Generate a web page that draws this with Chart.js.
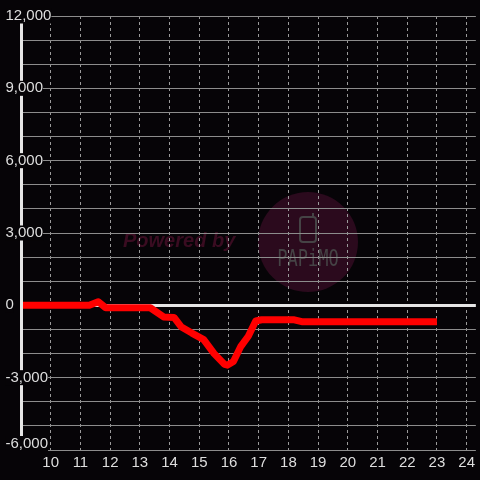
<!DOCTYPE html>
<html>
<head>
<meta charset="utf-8">
<script src="https://cdn.jsdelivr.net/npm/chart.js@4/dist/chart.umd.min.js"></script>
<style>
  html, body { margin: 0; padding: 0; background: #060407; }
  #wrap { width: 480px; height: 480px; }
</style>
</head>
<body>
<div id="wrap"><canvas id="diffChart"></canvas></div>
<script>
// hour of day (decimal) and running difference at that time
const hours = [9.0, 11.3, 11.6, 11.85, 13.35, 13.8, 14.15, 14.4, 14.75, 15.15, 15.5, 15.85, 15.95, 16.15, 16.4, 16.65, 16.9, 17.1, 18.2, 18.45, 23.0];
const diffs = [0, 0, 150, -100, -100, -480, -500, -900, -1150, -1420, -2000, -2450, -2480, -2330, -1700, -1280, -650, -600, -600, -680, -680];

const xTickHours = [10, 11, 12, 13, 14, 15, 16, 17, 18, 19, 20, 21, 22, 23, 24];
const yTickLabels = { "12000": "12,000", "9000": "9,000", "6000": "6,000", "3000": "3,000", "0": "0", "-3000": "-3,000", "-6000": "-6,000" };

const BG = "#060407";
const AXIS = "#e6e6e6";
const GRID = "#8c8c8c";
const VGRID = "#9a9a9a";
const TEXT = "#dedede";
const FONT = { family: "'Liberation Sans', Arial, sans-serif", size: 15, lineHeight: 1 };

// background + faint "Powered by" watermark, under the grid
const watermarkPlugin = {
  id: "watermarkPlugin",
  beforeDraw(chart) {
    const { ctx, width, height } = chart;
    ctx.save();
    ctx.fillStyle = BG;
    ctx.fillRect(0, 0, width, height);

    ctx.fillStyle = "#3a0c21";
    ctx.font = "italic bold 20px 'Liberation Sans', Arial, sans-serif";
    ctx.textBaseline = "alphabetic";
    ctx.textAlign = "left";
    ctx.fillText("Powered by", 123, 247);

    ctx.fillStyle = "#2b0a1d";
    ctx.beginPath();
    ctx.arc(308, 242, 50, 0, Math.PI * 2);
    ctx.fill();

    ctx.strokeStyle = "#454345";
    ctx.lineWidth = 2;
    ctx.beginPath();
    ctx.roundRect(300, 217, 16, 25, 3);
    ctx.stroke();
    ctx.beginPath();
    ctx.moveTo(313, 217);
    ctx.lineTo(313, 213);
    ctx.stroke();

    ctx.fillStyle = "#454345";
    ctx.font = "17px 'DejaVu Sans Mono', monospace";
    ctx.textAlign = "center";
    ctx.save();
    ctx.translate(308, 266);
    ctx.scale(1, 1.3);
    ctx.fillText("PAPiMO", 0, 0);
    ctx.restore();
    ctx.restore();
  }
};

// the bottom y label sits a little above its gridline in the original
const nudgeLabelPlugin = {
  id: "nudgeLabelPlugin",
  beforeDraw(chart) {
    const items = chart.scales.y.getLabelItems();
    items.forEach(it => {
      if (it.label === "-6,000" && !it._nudged) {
        it._nudged = true;
        it.options.translation[1] -= 6.5;
      }
    });
  }
};

const data = {
  datasets: [{
    data: hours.map((h, i) => ({ x: h, y: diffs[i] })),
    borderColor: "#ff0000",
    borderWidth: 7,
    borderJoinStyle: "round",
    pointRadius: 0,
    tension: 0,
    fill: false
  }]
};

const config = {
  type: "line",
  data,
  options: {
    responsive: true,
    maintainAspectRatio: false,
    animation: false,
    events: [],
    layout: { padding: { left: 21, top: 16, right: 0, bottom: 5 } },
    plugins: {
      legend: { display: false },
      tooltip: { enabled: false },
      title: { display: false }
    },
    scales: {
      x: {
        type: "linear",
        min: 9,
        max: 24.31,
        border: { display: false, dash: [3, 3] },
        grid: {
          color: c => (c.tick && xTickHours.includes(c.tick.value)) ? VGRID : "rgba(0,0,0,0)",
          lineWidth: 1,
          drawTicks: false,
          tickLength: 0
        },
        ticks: {
          stepSize: 1,
          includeBounds: false,
          padding: 5,
          color: TEXT,
          font: FONT,
          maxRotation: 0,
          autoSkip: false,
          callback: v => xTickHours.includes(v) ? String(v) : ""
        },
        afterBuildTicks: s => {
          s.ticks = s.ticks.filter(t => t.value >= 9 && t.value <= 24);
        }
      },
      y: {
        min: -6000,
        max: 12000,
        afterFit: s => { s.width = 0; },
        border: { color: AXIS, width: 3, z: 1 },
        grid: {
          color: c => (c.tick && c.tick.value === 0) ? AXIS : GRID,
          lineWidth: c => (c.tick && c.tick.value === 0) ? 3 : 1,
          drawTicks: false,
          tickLength: 0
        },
        ticks: {
          stepSize: 1000,
          z: 1,
          mirror: true,
          padding: -15.5,
          color: TEXT,
          font: FONT,
          autoSkip: false,
          callback: v => yTickLabels[String(v)] || "",
          showLabelBackdrop: c => yTickLabels[String(c.tick.value)] !== undefined,
          backdropColor: BG,
          backdropPadding: 0
        }
      }
    }
  },
  plugins: [watermarkPlugin, nudgeLabelPlugin]
};

const ctx = document.getElementById("diffChart").getContext("2d");
new Chart(ctx, config);
</script>
</body>
</html>
